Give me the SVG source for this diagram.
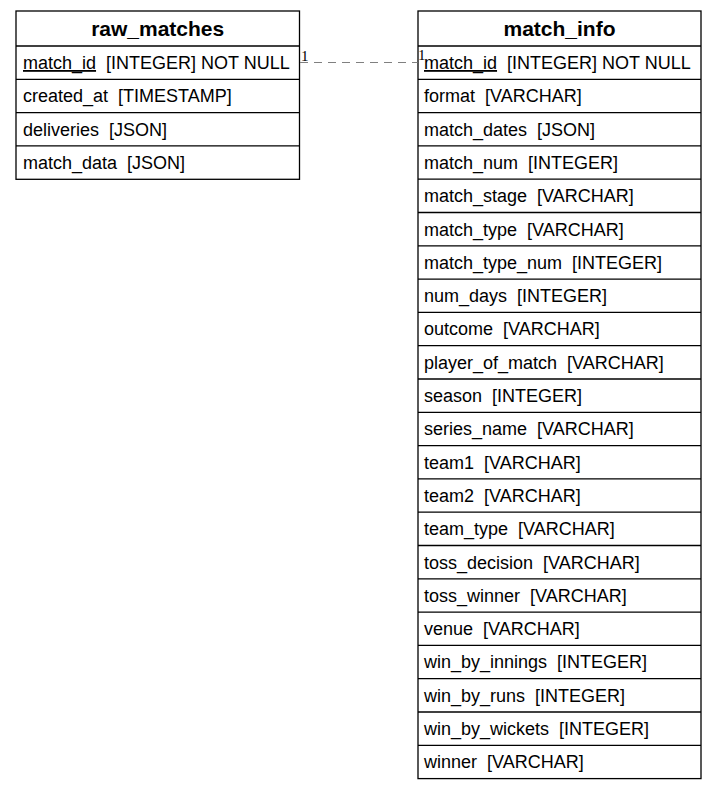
<svg xmlns="http://www.w3.org/2000/svg" width="717" height="790" viewBox="0 0 717 790">
<style>
.box{fill:#fff;stroke:#000;stroke-width:1.3}
.sep{stroke:#000;stroke-width:1.3}
.title{font-family:"Liberation Sans",Arial,sans-serif;font-size:21px;font-weight:bold;text-anchor:middle;fill:#000}
.row{font-family:"Liberation Sans",Arial,sans-serif;font-size:18px;fill:#000;white-space:pre}
.pk{text-decoration:underline}
.card{font-family:"Liberation Serif","Times New Roman",serif;font-size:15px;fill:#000}
.edge{stroke:#808080;stroke-width:1.2;stroke-dasharray:8,6;fill:none}
</style>
<rect width="717" height="790" fill="#fff"/>
<g id="raw_matches">
<rect class="box" x="16" y="11" width="283.5" height="168.3"/>
<line class="sep" x1="16" y1="46" x2="299.5" y2="46"/>
<line class="sep" x1="16" y1="79.3" x2="299.5" y2="79.3"/>
<line class="sep" x1="16" y1="112.6" x2="299.5" y2="112.6"/>
<line class="sep" x1="16" y1="145.9" x2="299.5" y2="145.9"/>
<text class="title" x="157.7" y="36">raw_matches</text>
<text class="row" x="23" y="69"><tspan class="pk">match_id</tspan> &#160;[INTEGER] NOT NULL</text>
<text class="row" x="23" y="102.3">created_at &#160;[TIMESTAMP]</text>
<text class="row" x="23" y="135.6">deliveries &#160;[JSON]</text>
<text class="row" x="23" y="168.9">match_data &#160;[JSON]</text>
</g>
<g id="match_info">
<rect class="box" x="418" y="11" width="283" height="767.6"/>
<line class="sep" x1="418" y1="46" x2="701" y2="46"/>
<line class="sep" x1="418" y1="79.3" x2="701" y2="79.3"/>
<line class="sep" x1="418" y1="112.6" x2="701" y2="112.6"/>
<line class="sep" x1="418" y1="145.9" x2="701" y2="145.9"/>
<line class="sep" x1="418" y1="179.2" x2="701" y2="179.2"/>
<line class="sep" x1="418" y1="212.5" x2="701" y2="212.5"/>
<line class="sep" x1="418" y1="245.8" x2="701" y2="245.8"/>
<line class="sep" x1="418" y1="279.1" x2="701" y2="279.1"/>
<line class="sep" x1="418" y1="312.4" x2="701" y2="312.4"/>
<line class="sep" x1="418" y1="345.7" x2="701" y2="345.7"/>
<line class="sep" x1="418" y1="379" x2="701" y2="379"/>
<line class="sep" x1="418" y1="412.3" x2="701" y2="412.3"/>
<line class="sep" x1="418" y1="445.6" x2="701" y2="445.6"/>
<line class="sep" x1="418" y1="478.9" x2="701" y2="478.9"/>
<line class="sep" x1="418" y1="512.2" x2="701" y2="512.2"/>
<line class="sep" x1="418" y1="545.5" x2="701" y2="545.5"/>
<line class="sep" x1="418" y1="578.8" x2="701" y2="578.8"/>
<line class="sep" x1="418" y1="612.1" x2="701" y2="612.1"/>
<line class="sep" x1="418" y1="645.4" x2="701" y2="645.4"/>
<line class="sep" x1="418" y1="678.7" x2="701" y2="678.7"/>
<line class="sep" x1="418" y1="712" x2="701" y2="712"/>
<line class="sep" x1="418" y1="745.3" x2="701" y2="745.3"/>
<text class="title" x="559.5" y="36">match_info</text>
<text class="row" x="424" y="69"><tspan class="pk">match_id</tspan> &#160;[INTEGER] NOT NULL</text>
<text class="row" x="424" y="102.3">format &#160;[VARCHAR]</text>
<text class="row" x="424" y="135.6">match_dates &#160;[JSON]</text>
<text class="row" x="424" y="168.9">match_num &#160;[INTEGER]</text>
<text class="row" x="424" y="202.2">match_stage &#160;[VARCHAR]</text>
<text class="row" x="424" y="235.5">match_type &#160;[VARCHAR]</text>
<text class="row" x="424" y="268.8">match_type_num &#160;[INTEGER]</text>
<text class="row" x="424" y="302.1">num_days &#160;[INTEGER]</text>
<text class="row" x="424" y="335.4">outcome &#160;[VARCHAR]</text>
<text class="row" x="424" y="368.7">player_of_match &#160;[VARCHAR]</text>
<text class="row" x="424" y="402">season &#160;[INTEGER]</text>
<text class="row" x="424" y="435.3">series_name &#160;[VARCHAR]</text>
<text class="row" x="424" y="468.6">team1 &#160;[VARCHAR]</text>
<text class="row" x="424" y="501.9">team2 &#160;[VARCHAR]</text>
<text class="row" x="424" y="535.2">team_type &#160;[VARCHAR]</text>
<text class="row" x="424" y="568.5">toss_decision &#160;[VARCHAR]</text>
<text class="row" x="424" y="601.8">toss_winner &#160;[VARCHAR]</text>
<text class="row" x="424" y="635.1">venue &#160;[VARCHAR]</text>
<text class="row" x="424" y="668.4">win_by_innings &#160;[INTEGER]</text>
<text class="row" x="424" y="701.7">win_by_runs &#160;[INTEGER]</text>
<text class="row" x="424" y="735">win_by_wickets &#160;[INTEGER]</text>
<text class="row" x="424" y="768.3">winner &#160;[VARCHAR]</text>
</g>
<g id="connectors">
<line class="edge" x1="300" y1="62.5" x2="417.5" y2="62.5"/>
<text class="card" x="301" y="61">1</text>
<text class="card" x="418" y="60">1</text>
</g>
</svg>
